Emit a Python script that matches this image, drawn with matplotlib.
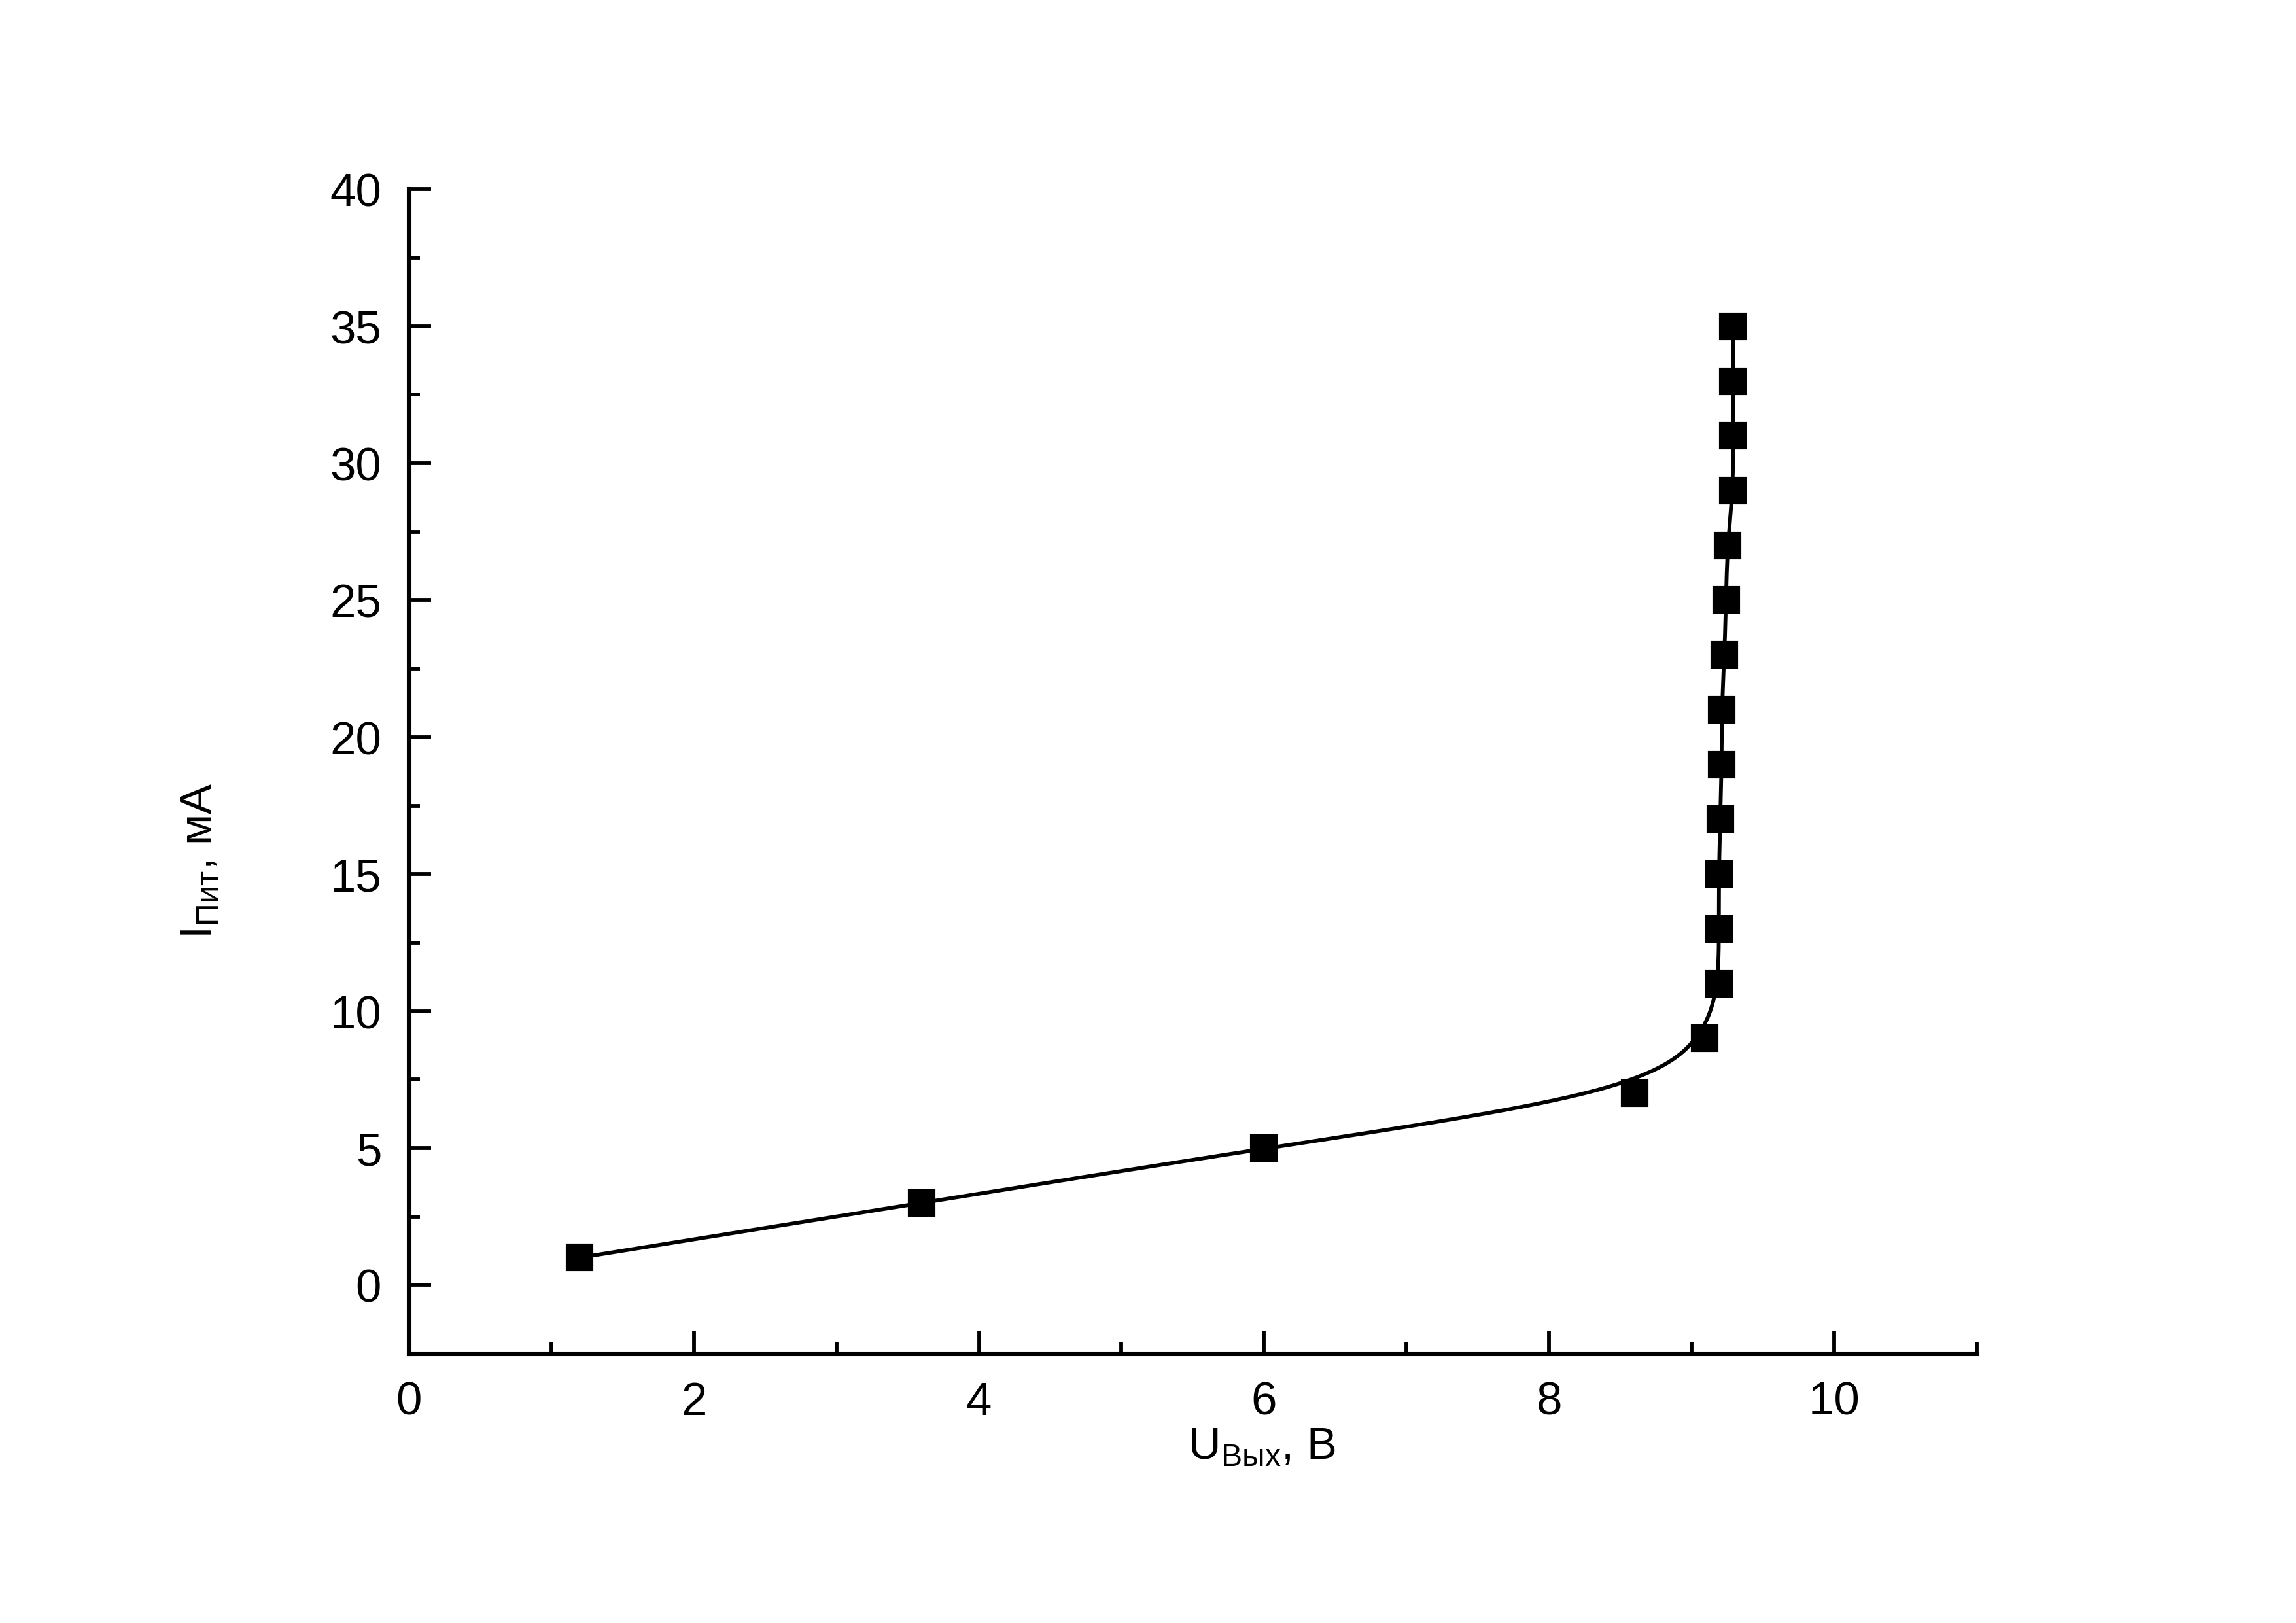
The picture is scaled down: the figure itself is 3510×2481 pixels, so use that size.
import numpy as np
import matplotlib
matplotlib.use("Agg")
from matplotlib import pyplot as plt
from matplotlib.ticker import MultipleLocator

plt.rcParams['font.family'] = ['Liberation Sans', 'DejaVu Sans']
plt.rcParams['mathtext.fontset'] = 'custom'
plt.rcParams['mathtext.rm'] = 'Liberation Sans'

# measured points: output voltage (V) vs supply current (mA)
u_out = [1.2, 3.6, 6.0, 8.6, 9.09, 9.19, 9.19, 9.19, 9.2, 9.21, 9.21,
         9.23, 9.24, 9.25, 9.29, 9.29, 9.29, 9.29]
i_sup = [1, 3, 5, 7, 9, 11, 13, 15, 17, 19, 21, 23, 25, 27, 29, 31, 33, 35]


def bspline(px, py, n=60):
    # uniform cubic B-spline with the data points as control points,
    # end points repeated so the curve starts/ends on them
    px = np.r_[[px[0]] * 2, px, [px[-1]] * 2]
    py = np.r_[[py[0]] * 2, py, [py[-1]] * 2]
    t = np.linspace(0, 1, n, endpoint=False)
    b0 = (1 - t)**3 / 6
    b1 = (3 * t**3 - 6 * t**2 + 4) / 6
    b2 = (-3 * t**3 + 3 * t**2 + 3 * t + 1) / 6
    b3 = t**3 / 6
    xs, ys = [], []
    for k in range(len(px) - 3):
        xs.append(b0 * px[k] + b1 * px[k + 1] + b2 * px[k + 2] + b3 * px[k + 3])
        ys.append(b0 * py[k] + b1 * py[k + 1] + b2 * py[k + 2] + b3 * py[k + 3])
    xs.append([px[-1]])
    ys.append([py[-1]])
    return np.concatenate(xs), np.concatenate(ys)


xs, ys = bspline(u_out, i_sup)

fig = plt.figure(figsize=(11.7, 8.2733), dpi=300)
ax = fig.add_axes([0.178, 0.166, 0.683, 0.717])

ax.plot(xs, ys, color='black', lw=1.4, zorder=2)
ax.plot(u_out, i_sup, 's', color='black', markersize=9.1, zorder=3)

ax.set_xlim(0, 11)
ax.set_ylim(-2.5, 40)
ax.xaxis.set_major_locator(MultipleLocator(2))
ax.xaxis.set_minor_locator(MultipleLocator(1))
ax.yaxis.set_major_locator(MultipleLocator(5))
ax.yaxis.set_minor_locator(MultipleLocator(2.5))

for s in ['top', 'right']:
    ax.spines[s].set_visible(False)
for s in ['left', 'bottom']:
    ax.spines[s].set_linewidth(1.7)

ax.tick_params(which='major', direction='in', length=8.2, width=1.4,
               labelsize=17, pad=10)
ax.tick_params(which='minor', direction='in', length=4.1, width=1.4)

ax.set_xlabel(r'U$_{\mathregular{Вых}}$, В', fontsize=16.5)
ax.xaxis.set_label_coords(0.544, -0.08)
ax.xaxis.label.set_va('center')
ax.set_ylabel(r'I$_{\mathregular{Пит}}$, мА', fontsize=16.5)
ax.yaxis.set_label_coords(-0.133, 0.424)
ax.yaxis.label.set_va('center')

fig.savefig('out.png', dpi=300)
